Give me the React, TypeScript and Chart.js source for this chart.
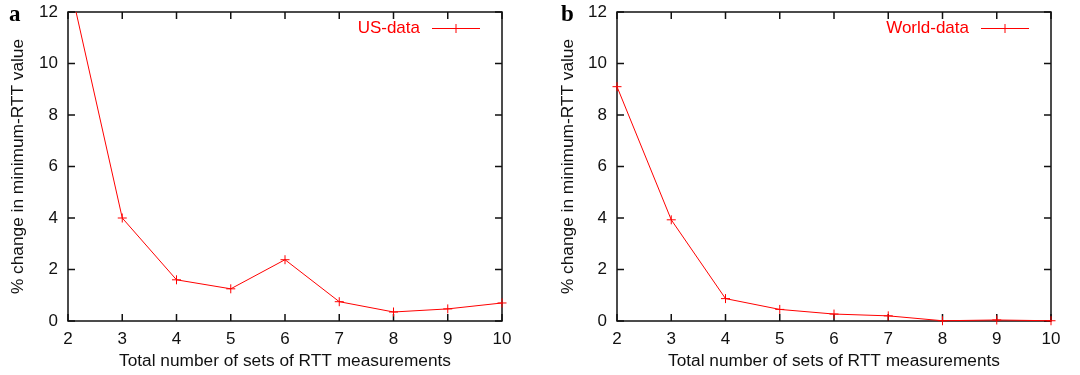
import React, { useEffect, useRef } from "react";
import { Chart, registerables } from "chart.js";

Chart.register(...registerables);

// Number of measurement sets (x) and % change in minimum RTT (y)
const setCounts = [2, 3, 4, 5, 6, 7, 8, 9, 10];
const usChange = [13.4, 4.0, 1.6, 1.25, 2.38, 0.75, 0.35, 0.47, 0.7];
const worldChange = [9.1, 3.93, 0.87, 0.45, 0.27, 0.2, 0.01, 0.04, 0.01];

const xTickValues = [2, 3, 4, 5, 6, 7, 8, 9, 10];
const yTickValues = [0, 2, 4, 6, 8, 10, 12];

const X_TITLE = "Total number of sets of RTT measurements";
const Y_TITLE = "% change in minimum-RTT value";

const FONT = "'Liberation Sans', Arial, Helvetica, sans-serif";
const RED = "#ff0000";
const INK = "#111111";

// Closed frame with inward ticks on all four sides, plus a gnuplot-style key
const framePlugin = {
  id: "frame",
  beforeDatasetsDraw(chart: any) {
    const { ctx, chartArea, scales } = chart;
    const { left, right, top, bottom } = chartArea;
    const tick = 7;
    ctx.save();
    ctx.strokeStyle = INK;
    ctx.lineWidth = 1.5;
    ctx.strokeRect(left, top, right - left, bottom - top);
    ctx.beginPath();
    for (const v of yTickValues) {
      const y = scales.y.getPixelForValue(v);
      ctx.moveTo(left, y);
      ctx.lineTo(left + tick, y);
      ctx.moveTo(right, y);
      ctx.lineTo(right - tick, y);
    }
    for (const v of xTickValues) {
      const x = scales.x.getPixelForValue(v);
      ctx.moveTo(x, bottom);
      ctx.lineTo(x, bottom - tick);
      ctx.moveTo(x, top);
      ctx.lineTo(x, top + tick);
    }
    ctx.stroke();
    ctx.restore();
  },
  afterDraw(chart: any) {
    const { ctx, chartArea } = chart;
    const name = chart.data.datasets[0].label;
    const y = chartArea.top + 16.5;
    const x0 = chartArea.right - 70;
    const x1 = chartArea.right - 22;
    ctx.save();
    ctx.fillStyle = RED;
    ctx.font = `17px ${FONT}`;
    ctx.textAlign = "right";
    ctx.textBaseline = "middle";
    ctx.fillText(name, chartArea.right - 82, y);
    ctx.strokeStyle = RED;
    ctx.lineWidth = 1;
    ctx.beginPath();
    ctx.moveTo(x0, y);
    ctx.lineTo(x1, y);
    const cx = (x0 + x1) / 2;
    ctx.moveTo(cx - 4.5, y);
    ctx.lineTo(cx + 4.5, y);
    ctx.moveTo(cx, y - 4.5);
    ctx.lineTo(cx, y + 4.5);
    ctx.stroke();
    ctx.restore();
  },
};

type PanelProps = {
  letter: string;
  name: string;
  values: number[];
  left: number;
  yAxisWidth: number;
  rightPad: number;
  yTitlePad: number;
};

function Panel({ letter, name, values, left, yAxisWidth, rightPad, yTitlePad }: PanelProps) {
  const canvasRef = useRef<HTMLCanvasElement | null>(null);

  useEffect(() => {
    if (!canvasRef.current) return;
    const chart = new Chart(canvasRef.current, {
      type: "line",
      data: {
        datasets: [
          {
            label: name,
            data: setCounts.map((x, i) => ({ x, y: values[i] })),
            borderColor: RED,
            backgroundColor: RED,
            borderWidth: 1,
            pointStyle: "cross",
            pointRadius: 4.5,
            pointBorderWidth: 1,
            pointBorderColor: RED,
            tension: 0,
            clip: { left: 6, right: 6, top: 0, bottom: 6 },
          } as any,
        ],
      },
      options: {
        responsive: false,
        animation: false,
        layout: { padding: { left: 0, right: rightPad, top: 12, bottom: 0 } },
        plugins: {
          legend: { display: false },
          tooltip: { enabled: false },
        },
        scales: {
          x: {
            type: "linear",
            min: 2,
            max: 10,
            afterFit: (s: any) => {
              s.height = 54;
            },
            afterBuildTicks: (s: any) => {
              s.ticks = xTickValues.map((v) => ({ value: v }));
            },
            grid: { display: false, drawTicks: false },
            border: { display: false },
            ticks: {
              padding: 8,
              color: INK,
              font: { family: FONT, size: 17 },
              maxRotation: 0,
            },
            title: {
              display: true,
              text: X_TITLE,
              color: INK,
              font: { family: FONT, size: 17.3 },
              padding: { top: 0, bottom: 3 },
            },
          },
          y: {
            type: "linear",
            min: 0,
            max: 12,
            afterFit: (s: any) => {
              s.width = yAxisWidth;
              s.paddingTop = 0;
              s.paddingBottom = 0;
            },
            afterBuildTicks: (s: any) => {
              s.ticks = yTickValues.map((v) => ({ value: v }));
            },
            grid: { display: false, drawTicks: false },
            border: { display: false },
            ticks: {
              padding: 10,
              color: INK,
              font: { family: FONT, size: 17 },
            },
            title: {
              display: true,
              text: Y_TITLE,
              color: INK,
              font: { family: FONT, size: 17.3 },
              padding: { top: yTitlePad, bottom: 0 },
            },
          },
        },
      } as any,
      plugins: [framePlugin],
    });
    return () => chart.destroy();
  }, []);

  return (
    <div style={{ position: "absolute", left, top: 0, width: 540, height: 375 }}>
      <canvas ref={canvasRef} width={540} height={375} style={{ display: "block" }} />
      <span
        style={{
          position: "absolute",
          left: letter === "a" ? 9 : 21,
          top: 1,
          font: `bold 23px 'Liberation Serif', 'Times New Roman', serif`,
          color: "#000",
        }}
      >
        {letter}
      </span>
    </div>
  );
}

export default function App() {
  return (
    <div
      style={{
        position: "absolute",
        left: 0,
        top: 0,
        width: 1080,
        height: 375,
        background: "#fff",
        overflow: "hidden",
      }}
    >
      <Panel letter="a" name="US-data" values={usChange} left={0} yAxisWidth={68} rightPad={38} yTitlePad={8} />
      <Panel letter="b" name="World-data" values={worldChange} left={540} yAxisWidth={77} rightPad={29} yTitlePad={18} />
    </div>
  );
}
